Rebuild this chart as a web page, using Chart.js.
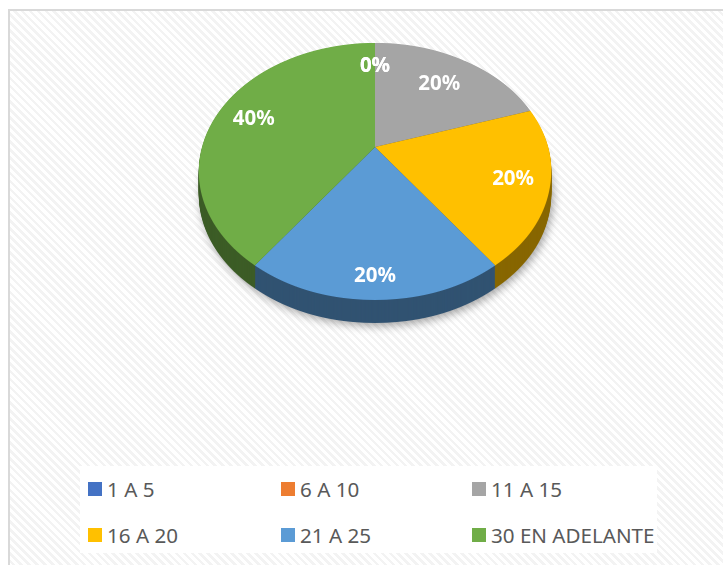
<!DOCTYPE html>
<html>
<head>
<meta charset="utf-8">
<script src="https://cdn.jsdelivr.net/npm/chart.js@4.4.1/dist/chart.umd.min.js"></script>
<style>
  html, body { margin: 0; padding: 0; width: 723px; height: 565px; overflow: hidden; background: #fff; }
  #frame {
    position: absolute; left: 8px; top: 9px; width: 740px; height: 580px;
    border: 2px solid #d9d9d9;
    background: repeating-linear-gradient(45deg, #ffffff 0px, #ffffff 3px, #f3f3f3 3px, #f3f3f3 5.6px);
  }
  #chart-box { position: absolute; left: 0; top: -40px; width: 723px; height: 400px; }
  #legend {
    position: absolute; left: 80px; top: 466px; width: 569px; height: 87px; padding-left: 8px;
    background: #fff; display: grid;
    grid-template-columns: 193px 191px auto; grid-template-rows: 46px 46px;
    font-family: 'Noto Sans', sans-serif; font-size: 20.6px; color: #595959;
  }
  .legend-item { display: flex; align-items: center; white-space: nowrap; }
  .legend-item .box { width: 14px; height: 14px; margin-right: 5px; flex: none; }
</style>
</head>
<body>
<div id="frame"></div>
<div id="chart-box"><canvas id="my-chart"></canvas></div>
<div id="legend"></div>

<script>
const categories = ['1 A 5', '6 A 10', '11 A 15', '16 A 20', '21 A 25', '30 EN ADELANTE'];
const percentValues = [0, 0, 20, 20, 20, 40];
const sliceColors = ['#4472C4', '#ED7D31', '#A5A5A5', '#FFC000', '#5B9BD5', '#70AD47'];

// draws the arcs row by row, each row with its own affine piece of a perspective view
function drawProjected(ctx, arcs, geo, width) {
  const top = Math.floor(geo.cy - geo.ry / (1 + geo.p)) - 1;
  const bottom = Math.ceil(geo.cy + geo.ry / (1 - geo.p)) + 1;
  for (let y = top; y < bottom; y++) {
    const dy = y + 0.5 - geo.cy;
    const v0 = dy / (geo.ry + geo.p * dy);
    const k = 1 - geo.p * v0;
    const A = geo.rx / k / geo.R;
    const B = geo.ry / (k * k) / geo.R;
    const yc = geo.cy + geo.ry * v0 / k;
    ctx.save();
    ctx.beginPath();
    ctx.rect(0, y, width, 1);
    ctx.clip();
    ctx.setTransform(A, 0, 0, B, geo.cx - A * geo.ox, yc - B * v0 * geo.R - B * geo.oy);
    arcs.forEach(arc => arc.draw(ctx));
    ctx.restore();
  }
}

const tiltedPie = {
  id: 'tiltedPie',
  beforeDatasetsDraw(chart, args, opts) {
    const arcs = chart.getDatasetMeta(0).data;
    const ctx = chart.ctx;
    const first = arcs[0];
    const R = first.outerRadius;
    const geo = {
      cx: first.x, cy: first.y, ox: first.x, oy: first.y, R: R,
      rx: R * opts.squashX, ry: R * opts.squashY, p: opts.perspective
    };

    // side of the slab: darkened copy stacked downwards
    const off = document.createElement('canvas');
    off.width = chart.canvas.width;
    off.height = chart.canvas.height;
    const octx = off.getContext('2d');
    drawProjected(octx, arcs, geo, off.width);
    octx.globalCompositeOperation = 'source-atop';
    octx.fillStyle = opts.sideShade;
    octx.fillRect(0, 0, off.width, off.height);

    ctx.save();
    ctx.setTransform(1, 0, 0, 1, 0, 0);
    for (let d = opts.depth; d >= 1; d--) {
      if (d === opts.depth) {
        ctx.shadowColor = 'rgba(0,0,0,0.35)';
        ctx.shadowBlur = 9;
        ctx.shadowOffsetX = 2;
        ctx.shadowOffsetY = 3;
      } else {
        ctx.shadowColor = 'transparent';
      }
      ctx.drawImage(off, 0, d);
    }
    ctx.restore();

    // top face
    drawProjected(ctx, arcs, geo, chart.width);

    // percent labels
    ctx.save();
    ctx.font = opts.labelFont;
    ctx.fillStyle = '#ffffff';
    ctx.textAlign = 'center';
    ctx.textBaseline = 'middle';
    arcs.forEach((arc, i) => {
      const mid = (arc.startAngle + arc.endAngle) / 2;
      const r = opts.labelRadius[i];
      const u = r * Math.cos(mid);
      const v = r * Math.sin(mid);
      const k = 1 - geo.p * v;
      ctx.fillText(percentValues[i] + '%', geo.cx + geo.rx * u / k, geo.cy + geo.ry * v / k);
    });
    ctx.restore();
    return false;
  }
};

const ctx = document.getElementById('my-chart').getContext('2d');
const chart = new Chart(ctx, {
  type: 'pie',
  data: {
    labels: categories,
    datasets: [{
      data: percentValues,
      backgroundColor: sliceColors,
      borderWidth: 0,
      hoverBorderWidth: 0,
      hoverOffset: 0
    }]
  },
  options: {
    responsive: true,
    maintainAspectRatio: false,
    animation: false,
    events: [],
    layout: { padding: { left: 202, right: 175, top: 0, bottom: 26 } },
    plugins: {
      legend: { display: false },
      tooltip: { enabled: false },
      tiltedPie: {
        squashX: 1.0,
        squashY: 0.716,
        perspective: 0.19,
        depth: 23,
        sideShade: 'rgba(0,0,0,0.47)',
        labelFont: 'bold 20.5px "Noto Sans"',
        labelRadius: [0.74, 0.74, 0.70, 0.80, 0.87, 0.77]
      }
    }
  },
  plugins: [tiltedPie]
}); // closes chart = new Chart()

// legend
const legend = document.getElementById('legend');
categories.forEach((name, i) => {
  const item = document.createElement('div');
  item.className = 'legend-item';
  const box = document.createElement('span');
  box.className = 'box';
  box.style.background = sliceColors[i];
  const text = document.createElement('span');
  text.textContent = name;
  item.appendChild(box);
  item.appendChild(text);
  legend.appendChild(item);
});
</script>
</body>
</html>
